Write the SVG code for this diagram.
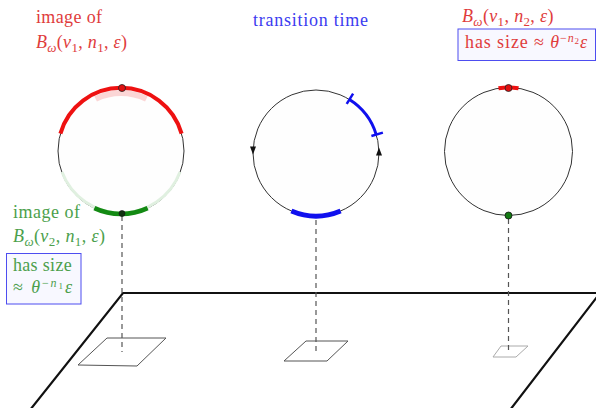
<svg xmlns="http://www.w3.org/2000/svg" width="596" height="408" viewBox="0 0 596 408">
<style>
text{font-family:"Liberation Serif","Times New Roman",serif;font-size:18px}
.red{fill:#e03c3c}
.grn{fill:#4c9f4c}
.blu{fill:#3c3cf0}
.it{font-style:italic}
.sub{font-size:13px}
.sup{font-size:12px}
.ssub{font-size:9px}
.circ{fill:#fefefe;stroke:#333;stroke-width:1}
.box{fill:#f8f8ff;stroke:#4d4df0;stroke-width:1}
.dash{stroke:#555;stroke-width:1.2;stroke-dasharray:5 4;fill:none}
.para{fill:none;stroke:#555;stroke-width:1}
</style>
<rect width="596" height="408" fill="#fff"/>

<!-- plane -->
<path d="M30 410 L123 293 L600 293 L510 410" fill="none" stroke="#111" stroke-width="2.2"/>
<polygon class="para" points="107,338 166,338 137,366 78,365"/>
<polygon class="para" points="306,341 348,341 327,361 284,361"/>
<polygon class="para" points="501,346 528,346 516,357 493,357" style="stroke:#aaa"/>

<g id="connectors">
<line class="dash" x1="122" y1="216" x2="122" y2="352"/>
<line class="dash" x1="316" y1="220" x2="316" y2="352"/>
<line class="dash" x1="508.5" y1="219" x2="508.5" y2="351"/>
</g>

<g id="circle-left">
<circle class="circ" cx="121" cy="151" r="63"/>
<path d="M62 172 A63 63 0 0 0 180 172" fill="none" stroke="#e0f0e0" stroke-width="3"/>
<path d="M95.6 98.9 A58 58 0 0 1 146.4 98.9" fill="none" stroke="#fbd6d6" stroke-width="6"/>
<path d="M60.4 133.6 A63 63 0 0 1 181.6 133.6" fill="none" stroke="#ee1111" stroke-width="4"/>
<path d="M94.4 208.1 A63 63 0 0 0 147.6 208.1" fill="none" stroke="#138a13" stroke-width="4.5"/>
<circle cx="122" cy="88" r="3.5" fill="#e01010" stroke="#222" stroke-width="0.8"/>
<circle cx="122" cy="213.5" r="3" fill="#123312" stroke="#111" stroke-width="0.6"/>
</g>

<g id="label-left-red">
<text class="red" x="36" y="23" textLength="66" lengthAdjust="spacing">image of</text>
<text class="red" x="36" y="48" textLength="91" lengthAdjust="spacing"><tspan class="it">B</tspan><tspan class="it sub" dy="4">ω</tspan><tspan dy="-4">(</tspan><tspan class="it">v</tspan><tspan class="sub" dy="4">1</tspan><tspan dy="-4">, </tspan><tspan class="it">n</tspan><tspan class="sub" dy="4">1</tspan><tspan dy="-4">, </tspan><tspan class="it">ε</tspan>)</text>
</g>

<g id="label-left-green">
<text class="grn" x="13" y="218" textLength="67" lengthAdjust="spacing">image of</text>
<text class="grn" x="13" y="242" textLength="92" lengthAdjust="spacing"><tspan class="it">B</tspan><tspan class="it sub" dy="4">ω</tspan><tspan dy="-4">(</tspan><tspan class="it">v</tspan><tspan class="sub" dy="4">2</tspan><tspan dy="-4">, </tspan><tspan class="it">n</tspan><tspan class="sub" dy="4">1</tspan><tspan dy="-4">, </tspan><tspan class="it">ε</tspan>)</text>
<rect class="box" x="6.5" y="253.5" width="74.5" height="50.5"/>
<text class="grn" x="13" y="270.5" textLength="58.7" lengthAdjust="spacing">has size</text>
<text class="grn" x="13" y="292.5" textLength="59" lengthAdjust="spacing">≈ <tspan class="it">θ</tspan><tspan class="sup" dy="-6">−</tspan><tspan class="it sup">n</tspan><tspan class="ssub" dy="2">1</tspan><tspan class="it" dy="4">ε</tspan></text>
</g>

<g id="circle-middle">
<circle class="circ" cx="316" cy="153" r="63"/>
<path d="M349.4 99.6 A63 63 0 0 1 376.2 134.6" fill="none" stroke="#1010ee" stroke-width="3"/>
<line x1="346.7" y1="103.8" x2="353.1" y2="93.6" stroke="#1010ee" stroke-width="2.5"/>
<line x1="371.4" y1="136" x2="382.9" y2="132.6" stroke="#1010ee" stroke-width="2.5"/>
<path d="M291.4 211 A63 63 0 0 0 340.6 211" fill="none" stroke="#1010ee" stroke-width="5"/>
<polygon points="250,146.5 256,146.5 253,154.5" fill="#111"/>
<polygon points="376,155.5 382,155.5 379,147.5" fill="#111"/>
</g>

<g id="label-middle">
<text class="blu" x="253" y="26" textLength="115" lengthAdjust="spacing">transition time</text>
</g>

<g id="circle-right">
<circle class="circ" cx="508.5" cy="151.5" r="64"/>
<path d="M498.5 88.3 A64 64 0 0 1 518.5 88.3" fill="none" stroke="#ee1111" stroke-width="4"/>
<circle cx="508.5" cy="88" r="3.5" fill="#e01010" stroke="#222" stroke-width="0.8"/>
<circle cx="508.5" cy="215.5" r="3.5" fill="#137a13" stroke="#111" stroke-width="0.8"/>
</g>

<g id="label-right">
<text class="red" x="462" y="22" textLength="91.5" lengthAdjust="spacing"><tspan class="it">B</tspan><tspan class="it sub" dy="4">ω</tspan><tspan dy="-4">(</tspan><tspan class="it">v</tspan><tspan class="sub" dy="4">1</tspan><tspan dy="-4">, </tspan><tspan class="it">n</tspan><tspan class="sub" dy="4">2</tspan><tspan dy="-4">, </tspan><tspan class="it">ε</tspan>)</text>
<rect class="box" x="458" y="29" width="137.5" height="31.5"/>
<text class="red" x="465" y="48" textLength="122" lengthAdjust="spacing">has size ≈ <tspan class="it">θ</tspan><tspan class="sup" dy="-6">−</tspan><tspan class="it sup">n</tspan><tspan class="ssub" dy="2">2</tspan><tspan class="it" dy="4">ε</tspan></text>
</g>
</svg>
